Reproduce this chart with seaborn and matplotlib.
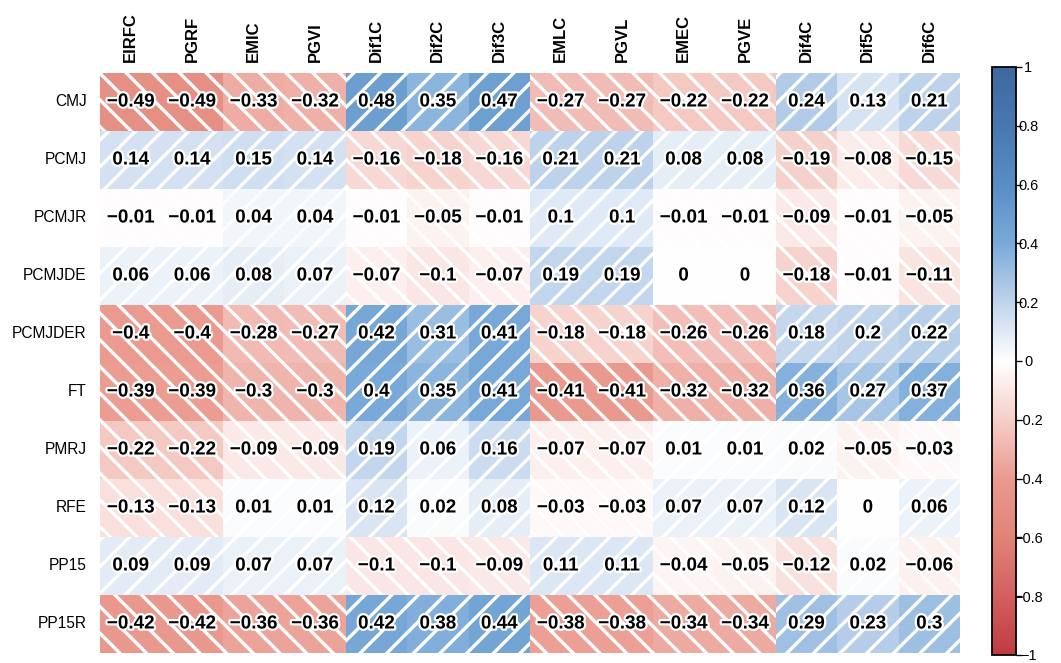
import numpy as np
import pandas as pd
import seaborn as sns
import matplotlib
matplotlib.use("Agg")
import matplotlib.pyplot as plt
from matplotlib.colors import LinearSegmentedColormap
from matplotlib.patches import Rectangle
import matplotlib.patheffects as pe

# ---------------- data ----------------
rows = ["CMJ", "PCMJ", "PCMJR", "PCMJDE", "PCMJDER", "FT", "PMRJ", "RFE", "PP15", "PP15R"]
cols = ["EIRFC", "PGRF", "EMIC", "PGVI", "Dif1C", "Dif2C", "Dif3C",
        "EMLC", "PGVL", "EMEC", "PGVE", "Dif4C", "Dif5C", "Dif6C"]

cmj     = [-0.49, -0.49, -0.33, -0.32, 0.48, 0.35, 0.47, -0.27, -0.27, -0.22, -0.22, 0.24, 0.13, 0.21]
pcmj    = [0.14, 0.14, 0.15, 0.14, -0.16, -0.18, -0.16, 0.21, 0.21, 0.08, 0.08, -0.19, -0.08, -0.15]
pcmjr   = [-0.01, -0.01, 0.04, 0.04, -0.01, -0.05, -0.01, 0.1, 0.1, -0.01, -0.01, -0.09, -0.01, -0.05]
pcmjde  = [0.06, 0.06, 0.08, 0.07, -0.07, -0.1, -0.07, 0.19, 0.19, 0, 0, -0.18, -0.01, -0.11]
pcmjder = [-0.4, -0.4, -0.28, -0.27, 0.42, 0.31, 0.41, -0.18, -0.18, -0.26, -0.26, 0.18, 0.2, 0.22]
ft      = [-0.39, -0.39, -0.3, -0.3, 0.4, 0.35, 0.41, -0.41, -0.41, -0.32, -0.32, 0.36, 0.27, 0.37]
pmrj    = [-0.22, -0.22, -0.09, -0.09, 0.19, 0.06, 0.16, -0.07, -0.07, 0.01, 0.01, 0.02, -0.05, -0.03]
rfe     = [-0.13, -0.13, 0.01, 0.01, 0.12, 0.02, 0.08, -0.03, -0.03, 0.07, 0.07, 0.12, 0, 0.06]
pp15    = [0.09, 0.09, 0.07, 0.07, -0.1, -0.1, -0.09, 0.11, 0.11, -0.04, -0.05, -0.12, 0.02, -0.06]
pp15r   = [-0.42, -0.42, -0.36, -0.36, 0.42, 0.38, 0.44, -0.38, -0.38, -0.34, -0.34, 0.29, 0.23, 0.3]

cbar_ticks = [-1, -0.8, -0.6, -0.4, -0.2, 0, 0.2, 0.4, 0.6, 0.8, 1]

values = np.array([cmj, pcmj, pcmjr, pcmjde, pcmjder, ft, pmrj, rfe, pp15, pp15r])
df = pd.DataFrame(values, index=rows, columns=cols)

def fmt(v):
    s = f"{v:g}"
    return s.replace("-", "\u2212")

labels = np.vectorize(fmt)(values)

# ---------------- style ----------------
sns.set_theme(style="white")
plt.rcParams["font.family"] = ["Liberation Sans", "DejaVu Sans"]
plt.rcParams["hatch.linewidth"] = 1.5
plt.rcParams["axes.unicode_minus"] = True

cmap = LinearSegmentedColormap.from_list("rb", [
    (0.0, "#BE3C41"),
    (0.1, "#D2605F"),
    (0.2, "#E18478"),
    (0.3, "#EA9A8F"),
    (0.4, "#F5CFC9"),
    (0.5, "#FFFFFF"),
    (0.6, "#C0D4EC"),
    (0.7, "#7AAAD9"),
    (0.8, "#578EC4"),
    (0.9, "#4779AF"),
    (1.0, "#3C69A0"),
])

DPI = 160
fig = plt.figure(figsize=(1061 / DPI, 663 / DPI), dpi=DPI)
ax = fig.add_axes([100 / 1061, 1 - 653 / 663, 860 / 1061, 580 / 663])
cax = fig.add_axes([992 / 1061, 1 - 655 / 663, 24 / 1061, 588 / 663])

sns.heatmap(df, ax=ax, cbar_ax=cax, cmap=cmap, vmin=-1, vmax=1,
            annot=labels, fmt="",
            annot_kws=dict(color="black", fontsize=8.5, fontweight="bold"),
            linewidths=0)

# hatching by sign
for i in range(len(rows)):
    for j in range(len(cols)):
        v = values[i, j]
        if v == 0:
            continue
        h = "//" if v > 0 else "\\\\"
        ax.add_patch(Rectangle((j, i), 1, 1, fill=False, hatch=h,
                               edgecolor="white", linewidth=0, zorder=2))

for t in ax.texts:
    t.set_zorder(5)
    t.set_path_effects([pe.withStroke(linewidth=2.0, foreground="white")])

# axes labels
ax.xaxis.tick_top()
ax.set_xticklabels(cols, rotation=90, fontsize=7.5, fontweight="bold")
ax.set_yticklabels(rows, rotation=0, fontsize=7)
ax.tick_params(axis="x", length=0, pad=5, colors="black")
ax.tick_params(axis="y", length=0, pad=6, colors="black")
ax.set_xlabel("")
ax.set_ylabel("")

# colorbar
cb = ax.collections[0].colorbar
cb.set_ticks(cbar_ticks)
cb.set_ticklabels([fmt(v) for v in cbar_ticks])
cb.outline.set_edgecolor("black")
cb.outline.set_linewidth(0.8)
cax.tick_params(axis="y", direction="out", length=2.5, width=0.6, color="black",
                labelsize=6.5, pad=3, labelcolor="black")
for lab in cax.get_yticklabels():
    lab.set_horizontalalignment("center")

fig.savefig("out.png", dpi=DPI)
